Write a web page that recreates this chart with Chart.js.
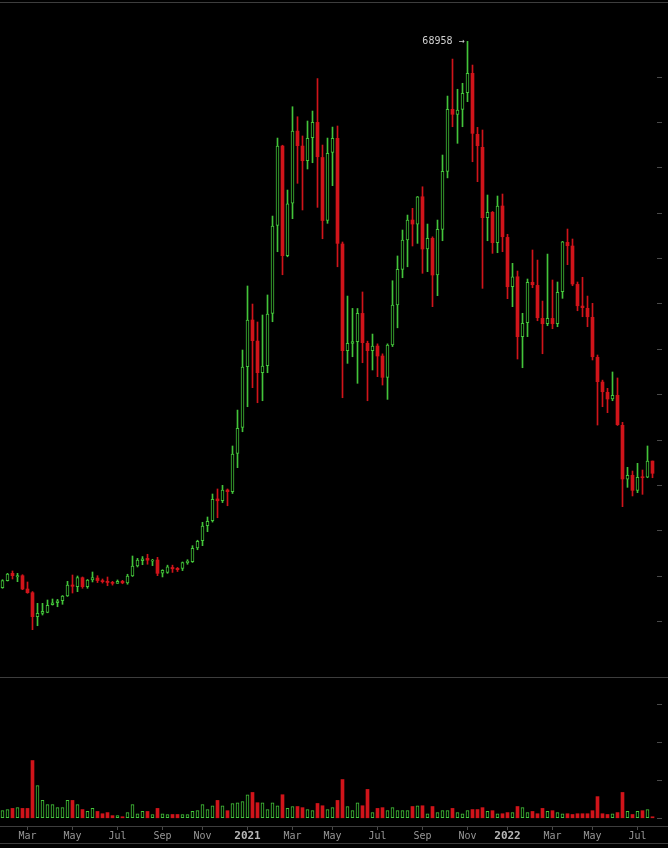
<!DOCTYPE html>
<html>
<head>
<meta charset="utf-8">
<title>BTC weekly</title>
<script src="https://cdn.jsdelivr.net/npm/chart.js"></script>
<style>
  html, body { margin: 0; padding: 0; background: #000; }
  #wrap { position: relative; width: 668px; height: 848px; overflow: hidden; background: #000; }
  #price { position: absolute; left: 0; top: 0; }
  #volume { position: absolute; left: 0; top: 678px; }
  .sep { position: absolute; left: 0; width: 668px; height: 1px; background: #3d3d3d; }
</style>
</head>
<body>
<div id="wrap">
  <canvas id="price" width="668" height="677"></canvas>
  <canvas id="volume" width="668" height="170"></canvas>
  <div class="sep" style="top:2px"></div>
  <div class="sep" style="top:677px"></div>
  <div class="sep" style="top:826px"></div>
  <div class="sep" style="top:843px"></div>
</div>
<script>
// weekly candles, first week starts 2020-01-26 (sunday weeks)
const open = [
  8715, 9487, 10300, 9900, 10040, 8570, 8165, 5520, 5880, 6000,
  6840, 7060, 7280, 7800, 9013, 8826, 9818, 8826, 9565, 9780,
  9500, 9420, 9300, 9200, 9420, 9250, 10005, 11108, 11700, 11950,
  11650, 11769, 10330, 10410, 10950, 10850, 10855, 11475, 11580, 13090,
  13900, 15550, 16100, 18500, 18310, 19490, 19300, 23530, 26400, 33080,
  38230, 35910, 32420, 33190, 38960, 48660, 57410, 45320, 51100, 59060,
  57410, 55790, 58330, 60020, 56150, 49200, 56710, 58260, 46610, 34850,
  35660, 35840, 38960, 35660, 34850, 35360, 34260, 31910, 35470, 39880,
  43820, 47050, 49250, 48810, 51820, 46060, 47240, 43190, 48230, 54620,
  61460, 60910, 61460, 63290, 65430, 58700, 57270, 49510, 50100, 46750,
  50800, 47340, 41900, 43000, 36390, 37930, 42390, 42050, 38410, 37820,
  38410, 37820, 41350, 46790, 46390, 42160, 39770, 39520, 38530, 34120,
  31390, 30260, 29520, 29930, 26620, 20670, 21110, 19450, 20920, 20890,
  22680
];
const high = [
  9600, 10300, 10560, 10300, 10150, 9345, 8290, 6995, 6995, 7360,
  7470, 7430, 7850, 9420, 10115, 10005, 9900, 9620, 10446, 10040,
  9675, 9895, 9420, 9570, 9530, 10200, 12210, 11950, 12150, 12400,
  11850, 12065, 10700, 11200, 11200, 10950, 11550, 11800, 13350, 13950,
  15925, 16510, 19045, 19600, 20000, 19600, 24340, 28300, 34920, 41980,
  39990, 38010, 38780, 40990, 49690, 58290, 57500, 52560, 61745, 60640,
  58520, 60170, 61270, 64850, 57520, 58290, 59500, 59620, 46830, 40870,
  39510, 39500, 41320, 35900, 36680, 35600, 34500, 35600, 42560, 45290,
  48150, 49800, 50540, 51850, 52920, 48810, 47400, 49250, 56420, 62920,
  67000, 63670, 64330, 68958, 66340, 59470, 59180, 52010, 50200, 51900,
  52120, 47680, 44480, 43630, 38970, 42750, 45950, 44840, 40320, 45500,
  42640, 42420, 46900, 48260, 47160, 42420, 42940, 40870, 40070, 34370,
  31600, 30700, 32500, 31840, 26950, 21990, 21580, 22430, 21690, 24340,
  22680
];
const low = [
  8650, 9450, 9675, 9380, 8500, 8100, 4085, 4525, 5705, 5950,
  6800, 6615, 6885, 7750, 8130, 8275, 8650, 8650, 9350, 9280,
  9230, 8935, 9000, 9200, 9150, 9100, 9950, 11000, 11250, 11300,
  11150, 10040, 9900, 10300, 10400, 10500, 10600, 11300, 11500, 12900,
  13350, 14890, 15950, 16430, 18100, 17750, 19100, 21950, 25910, 28670,
  30770, 29110, 29330, 32420, 38040, 45760, 43220, 45200, 49400, 53300,
  50360, 54880, 55570, 50650, 47190, 48890, 53040, 44100, 29660, 33450,
  34180, 31250, 33520, 29330, 32720, 31980, 31060, 29480, 35300, 37370,
  42890, 44100, 46390, 46680, 43380, 43560, 39700, 40910, 46970, 53900,
  59540, 57710, 59540, 62300, 55680, 53480, 41720, 46970, 45580, 45650,
  45760, 40580, 39700, 33930, 32970, 36390, 41790, 38150, 34510, 37600,
  37270, 37490, 40620, 44330, 42010, 39250, 38590, 37490, 33820, 26650,
  28670, 28010, 29330, 26600, 17650, 19780, 18830, 19190, 19010, 20840,
  20840
];
const close = [
  9487, 10226, 10040, 10060, 8570, 8165, 5520, 5890, 6100, 6775,
  7060, 7280, 7800, 9013, 8870, 9818, 8826, 9565, 9818, 9500,
  9380, 9290, 9200, 9420, 9250, 10005, 11108, 11769, 11900, 11750,
  11750, 10300, 10630, 11030, 10800, 10700, 11475, 11650, 13050, 13830,
  15520, 16030, 18460, 18300, 19490, 19300, 23455, 26290, 33050, 38230,
  35950, 32420, 33160, 38890, 48590, 57410, 45320, 51030, 59060, 57450,
  55790, 58260, 60020, 56230, 49200, 56600, 58260, 46680, 34850, 35660,
  35840, 38960, 35730, 34850, 35360, 34260, 31910, 35470, 39880, 43820,
  47050, 49250, 48810, 51820, 46060, 47240, 43190, 48230, 54620, 61460,
  60910, 61380, 63220, 65430, 58810, 57450, 49510, 50100, 46750, 50800,
  47410, 41900, 43000, 36390, 37860, 42390, 42120, 38480, 37820, 38410,
  37820, 41280, 46860, 46420, 42200, 39800, 39590, 38590, 34180, 31430,
  30320, 29520, 29930, 26690, 20700, 21110, 19450, 20890, 20840, 22680,
  21330
];
// volume, arbitrary units (one axis tick = 100)
const volume = [
  20, 23, 26, 28, 26, 26, 152, 86, 47, 36,
  36, 28, 28, 47, 47, 36, 23, 18, 26, 18,
  12, 15, 7, 7, 4, 15, 36, 12, 18, 18,
  10, 26, 12, 10, 10, 10, 10, 10, 18, 20,
  36, 23, 33, 47, 33, 20, 39, 41, 44, 62,
  68, 41, 41, 23, 41, 33, 62, 26, 31, 31,
  28, 23, 20, 39, 33, 23, 28, 47, 102, 31,
  20, 41, 33, 76, 15, 26, 28, 20, 28, 20,
  20, 20, 31, 33, 33, 12, 31, 15, 20, 20,
  26, 15, 12, 20, 23, 23, 28, 18, 20, 12,
  12, 15, 15, 31, 28, 15, 18, 12, 26, 18,
  20, 15, 12, 12, 10, 12, 12, 12, 20, 57,
  12, 10, 12, 15, 68, 18, 10, 18, 20, 23,
  4
];
// x axis labels sit on the first week of the month
const tickWeeks  = [5, 14, 23, 32, 40, 49, 58, 66, 75, 84, 93, 101, 110, 118, 127];
const tickLabels = ['Mar', 'May', 'Jul', 'Sep', 'Nov', '2021', 'Mar', 'May', 'Jul', 'Sep', 'Nov', '2022', 'Mar', 'May', 'Jul'];
const priceTicks  = [5000, 10000, 15000, 20000, 25000, 30000, 35000, 40000, 45000, 50000, 55000, 60000, 65000];
const volumeTicks = [0, 100, 200, 300];

const GREEN = '#43c43a';
const RED = '#d0141a';
const MONO = '"DejaVu Sans Mono", monospace';

const weeks = open.map((o, i) => i);
const isUp = open.map((o, i) => close[i] >= o);
const xMin = -0.5, xMax = 130.9;

function yAxis(tickValues, min, max) {
  return {
    position: 'right',
    min: min,
    max: max,
    afterBuildTicks: s => { s.ticks = tickValues.map(v => ({ value: v })); },
    ticks: { display: false },
    grid: { drawOnChartArea: false, drawTicks: true, tickLength: 5, color: '#4a4a4a' },
    border: { display: false }
  };
}

function isYear(ctx) {
  return !!(ctx && ctx.tick && /^\d{4}$/.test(ctx.tick.label));
}

// label the all-time high
const peakLabel = {
  id: 'peakLabel',
  afterDatasetsDraw(chart) {
    const top = Math.max(...high);
    const i = high.indexOf(top);
    const x = chart.scales.x.getPixelForValue(i);
    const y = chart.scales.y.getPixelForValue(top);
    const c = chart.ctx;
    c.save();
    c.font = '10px ' + MONO;
    c.fillStyle = '#cfcfcf';
    c.textAlign = 'right';
    c.textBaseline = 'middle';
    c.fillText(top + ' \u2192', x - 3, y);
    c.restore();
  }
};

new Chart(document.getElementById('price'), {
  type: 'bar',
  data: {
    datasets: [{
      label: 'body',
      data: weeks.map(i => ({ x: i, y: [open[i], close[i]] })),
      backgroundColor: isUp.map(u => u ? '#000' : RED),
      borderColor: isUp.map(u => u ? GREEN : RED),
      borderWidth: isUp.map(u => u ? 1 : 0),
      borderSkipped: false,
      barThickness: 3,
      minBarLength: 1,
      grouped: false
    }, {
      label: 'wick',
      data: weeks.map(i => ({ x: i, y: [low[i], high[i]] })),
      backgroundColor: isUp.map(u => u ? GREEN : RED),
      borderWidth: 0,
      barThickness: 1,
      grouped: false
    }]
  },
  options: {
    responsive: false,
    animation: false,
    layout: { padding: { left: 0, right: 6, top: 0, bottom: 0 } },
    plugins: { legend: { display: false }, tooltip: { enabled: false } },
    scales: {
      x: { type: 'linear', min: xMin, max: xMax, offset: false, display: false },
      y: yAxis(priceTicks, -1130, 73512)
    }
  },
  plugins: [peakLabel]
});

new Chart(document.getElementById('volume'), {
  type: 'bar',
  data: {
    datasets: [{
      label: 'volume',
      data: weeks.map(i => ({ x: i, y: volume[i] })),
      backgroundColor: isUp.map(u => u ? '#000' : RED),
      borderColor: isUp.map(u => u ? GREEN : RED),
      borderWidth: isUp.map(u => u ? 1 : 0),
      borderSkipped: false,
      barThickness: 3
    }]
  },
  options: {
    responsive: false,
    animation: false,
    layout: { padding: { left: 0, right: 6, top: 0, bottom: 0 } },
    plugins: { legend: { display: false }, tooltip: { enabled: false } },
    scales: {
      x: {
        type: 'linear',
        min: xMin,
        max: xMax,
        offset: false,
        afterBuildTicks: s => { s.ticks = tickWeeks.map(v => ({ value: v })); },
        afterFit: s => { s.height = 22; },
        ticks: {
          autoSkip: false,
          maxRotation: 0,
          padding: 0,
          callback: v => tickLabels[tickWeeks.indexOf(v)],
          color: ctx => isYear(ctx) ? '#b8b8b8' : '#969696',
          font: ctx => isYear(ctx)
            ? { family: MONO, size: 11, weight: 'bold' }
            : { family: MONO, size: 10 }
        },
        grid: { offset: false, drawOnChartArea: false, drawTicks: true, tickLength: 4, color: '#4a4a4a' },
        border: { display: false }
      },
      y: yAxis(volumeTicks, -20.3, 369.2)
    }
  }
});
</script>
</body>
</html>
